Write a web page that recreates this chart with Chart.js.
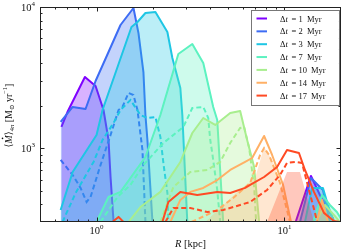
<!DOCTYPE html>
<html>
<head>
<meta charset="utf-8">
<script src="https://cdn.jsdelivr.net/npm/chart.js@4.4.0/dist/chart.umd.min.js"></script>
<style>
  html, body { margin: 0; padding: 0; background: #fff; }
</style>
</head>
<body>
<canvas id="chart" width="342" height="250"></canvas>
<script>
// time windows (Myr) and their colours
const dt = [1, 2, 3, 7, 10, 14, 17];
const colors = ['#7f00ff', '#3d6cf4', '#1ec6e4', '#5cf2c0', '#a8ee8e', '#ffb066', '#ff4a24'];

// solid curves: R [kpc] and <Mdot> [Msun/yr]
const r1 = [0.65, 0.70, 0.867, 0.988, 1.089, 1.158, 1.187, 1.231, 1.31, 10.7, 11.52, 13.84, 15.45, 18.11, 19.25];
const m1 = [1413, 1804, 3194, 2757, 1864, 1143, 625, 305, 200, 200, 305, 636, 466, 320, 250];
const r2 = [0.644, 0.746, 0.874, 0.988, 1.158, 1.341, 1.572, 1.671, 1.776, 1.82, 1.865, 1.983, 2.08, 11.8, 12.1, 13.84, 16.03, 17.46, 18.3];
const m2 = [1533, 1958, 1895, 2991, 4801, 7457, 9838, 6545, 3464, 1719, 1143, 305, 200, 200, 300, 615, 506, 300, 250];
const r3 = [0.644, 0.746, 1.0, 1.076, 1.293, 1.534, 1.651, 1.82, 2.057, 2.382, 2.532, 2.792, 2.861, 3.041, 3.155, 12.6, 12.86, 14.02, 16.03, 17.04, 18.33, 18.9];
const m3 = [365, 678, 1240, 1864, 3760, 7218, 7831, 9067, 9218, 6652, 4353, 2669, 1719, 300, 250, 250, 300, 523, 523, 396, 300, 250];
const r4 = [1.0, 1.158, 1.341, 1.82, 2.186, 2.724, 3.233, 3.698, 4.178, 4.389, 4.721, 4.9, 13.7, 14.19, 15.84, 17.46, 19.02, 20.5];
const m4 = [300, 451, 490, 866, 1719, 4647, 5470, 4012, 1958, 1584, 300, 250, 250, 300, 466, 396, 353, 300];
const r5 = [1.479, 1.712, 2.186, 2.792, 3.233, 3.698, 4.281, 5.144, 5.812, 6.331, 6.898, 7.332, 7.6, 14.0, 14.72, 16.42, 18.33, 19.73];
const m5 = [300, 383, 490, 799, 1281, 1636, 1460, 1775, 1834, 1143, 736, 300, 250, 250, 300, 396, 337, 300];
const r6 = [2.35, 2.471, 2.792, 3.155, 3.698, 4.389, 5.144, 6.178, 6.73, 7.793, 8.597, 9.831, 10.84, 11.2, 14.4, 14.89, 15.84, 17.04, 17.5];
const m6 = [250, 300, 430, 490, 523, 595, 701, 799, 852, 1220, 895, 549, 300, 250, 250, 300, 430, 300, 250];
const r7 = [1.16, 1.231, 1.309, 1.391, 1.46, 2.13, 2.24, 2.411, 2.792, 3.436, 4.389, 5.144, 6.178, 6.568, 7.793, 9.136, 10.32, 11.95, 12.86, 14.36, 16.23, 18.33, 19.73];
const m7 = [250, 305, 326, 300, 250, 250, 300, 416, 490, 466, 490, 482, 523, 549, 625, 736, 971, 925, 701, 490, 348, 305, 300];

// dashed curves
const r2d = [0.644, 0.746, 0.822, 0.885, 0.929, 1.05, 1.187, 1.309, 1.374, 1.479, 1.572, 1.651, 1.755, 1.82];
const m2d = [825, 646, 523, 416, 451, 760, 1240, 1864, 1958, 2460, 2381, 1864, 971, 300];
const r3d = [0.66, 0.685, 0.774, 0.964, 1.076, 1.231, 1.341, 1.515, 1.712, 1.865, 2.057, 2.186, 2.268, 2.382, 2.411];
const m3d = [300, 337, 482, 799, 1143, 1508, 1864, 2195, 1719, 1636, 1663, 1200, 786, 482, 300];
const r4d = [1.05, 1.293, 1.515, 1.776, 2.268, 2.896, 3.233, 3.698, 3.931, 4.028, 4.128, 4.389, 4.551];
const m4d = [300, 451, 549, 760, 1089, 1413, 1926, 1958, 1636, 1143, 925, 506, 300];
const r5d = [2.186, 2.563, 3.155, 3.883, 4.551, 5.144, 5.812, 6.1, 6.49, 6.898, 7.07];
const m5d = [300, 531, 678, 701, 799, 1089, 1390, 1413, 1003, 531, 300];
const r6d = [3.2, 4.389, 5.336, 6.568, 7.42, 7.793, 8.28, 9.476, 10.32, 10.71];
const m6d = [300, 365, 444, 567, 895, 1003, 895, 567, 365, 300];
const r7d = [2.324, 2.563, 3.155, 3.883, 4.721, 5.812, 6.568, 8.08, 9.476, 10.32, 11.38, 12.4, 13.51, 14.54, 15.0];
const m7d = [300, 377, 377, 353, 365, 396, 416, 506, 646, 786, 799, 786, 506, 348, 290];

// shaded bands for the two latest windows sit below their solid curves
const r6f = [3.79, 5.602, 6.983, 7.793, 8.597, 9.831, 10.84, 11.2, 14.4, 14.89, 15.84, 17.04, 17.5];
const m6f = [300, 490, 615, 1020, 825, 506, 300, 250, 250, 300, 430, 300, 250];
const r7f = [7.6, 8.08, 10.32, 12.1, 14.36, 14.8, 16.23, 18.33, 19.73];
const m7f = [250, 300, 678, 678, 300, 250, 300, 305, 300];

const xTicks = [1, 10];
const yTicks = [1000, 10000];

const solidR = [r1, r2, r3, r4, r5, r6, r7];
const solidM = [m1, m2, m3, m4, m5, m6, m7];
const dashedR = [null, r2d, r3d, r4d, r5d, r6d, r7d];
const dashedM = [null, m2d, m3d, m4d, m5d, m6d, m7d];
const fillR = [null, null, null, null, null, r6f, r7f];
const fillM = [null, null, null, null, null, m6f, m7f];

const SERIF = '"Liberation Serif", "DejaVu Serif", "DejaVu Sans", serif';

function points(rs, ms) {
    return rs.map((r, i) => ({ x: r, y: ms[i] }));
}

function hexA(hex, a) {
    const n = parseInt(hex.slice(1), 16);
    return 'rgba(' + (n >> 16) + ',' + ((n >> 8) & 255) + ',' + (n & 255) + ',' + a + ')';
}

const datasets = [];
dt.forEach((d, i) => {
    const ownFill = !!fillR[i];
    if (ownFill) {
        datasets.push({
            label: 'dt = ' + d + ' Myr (band)',
            data: points(fillR[i], fillM[i]),
            borderWidth: 0,
            borderColor: 'rgba(0,0,0,0)',
            backgroundColor: hexA(colors[i], 0.3),
            fill: 'start',
            pointRadius: 0,
            tension: 0,
            clip: 0,
            order: 200 - 3 * i
        });
    }
    datasets.push({
        label: 'dt = ' + d + ' Myr',
        data: points(solidR[i], solidM[i]),
        borderColor: colors[i],
        backgroundColor: hexA(colors[i], 0.3),
        borderWidth: 2,
        borderJoinStyle: 'round',
        fill: ownFill ? false : 'start',
        pointRadius: 0,
        tension: 0,
        clip: 0,
        order: 199 - 3 * i
    });
    if (dashedR[i]) {
        datasets.push({
            label: 'dt = ' + d + ' Myr (dashed)',
            data: points(dashedR[i], dashedM[i]),
            borderColor: colors[i],
            borderWidth: 2,
            borderDash: [5, 3],
            fill: false,
            pointRadius: 0,
            tension: 0,
            clip: 0,
            order: 198 - 3 * i
        });
    }
});

// draws a row of text pieces (for super/subscripts)
function drawRuns(ctx, runs, x, y, align) {
    let w = 0;
    runs.forEach(r => { ctx.font = r.font; r.w = ctx.measureText(r.t).width; w += r.w; });
    let cx = align === 'center' ? x - w / 2 : (align === 'right' ? x - w : x);
    runs.forEach(r => {
        ctx.font = r.font;
        ctx.fillText(r.t, cx, y + (r.dy || 0));
        r.x = cx;
        cx += r.w;
    });
    return runs;
}

const decor = {
    id: 'decor',
    afterDraw(chart) {
        const { ctx, chartArea: a, scales: { x, y } } = chart;
        ctx.save();

        // frame
        ctx.strokeStyle = '#222';
        ctx.lineWidth = 1;
        ctx.strokeRect(a.left + 0.5, a.top + 0.5, a.right - a.left - 1, a.bottom - a.top - 1);

        // inward ticks on all sides
        const xMinor = [0.6, 0.7, 0.8, 0.9, 2, 3, 4, 5, 6, 7, 8, 9];
        const yMinor = [400, 500, 600, 700, 800, 900, 2000, 3000, 4000, 5000, 6000, 7000, 8000, 9000];
        ctx.beginPath();
        xTicks.concat(xMinor).forEach(v => {
            const len = xTicks.includes(v) ? 4.5 : 2.5;
            const px = Math.round(x.getPixelForValue(v)) + 0.5;
            ctx.moveTo(px, a.bottom); ctx.lineTo(px, a.bottom - len);
            ctx.moveTo(px, a.top); ctx.lineTo(px, a.top + len);
        });
        yTicks.concat(yMinor).forEach(v => {
            const len = yTicks.includes(v) ? 4.5 : 2.5;
            const py = Math.round(y.getPixelForValue(v)) + 0.5;
            ctx.moveTo(a.left, py); ctx.lineTo(a.left + len, py);
            ctx.moveTo(a.right, py); ctx.lineTo(a.right - len, py);
        });
        ctx.stroke();

        // tick labels
        ctx.fillStyle = '#111';
        ctx.textBaseline = 'alphabetic';
        xTicks.forEach(v => {
            const e = Math.round(Math.log10(v));
            drawRuns(ctx, [
                { t: '10', font: '10.5px ' + SERIF },
                { t: String(e), font: '7px ' + SERIF, dy: -5 }
            ], x.getPixelForValue(v), 233.5, 'center');
        });
        yTicks.forEach(v => {
            const e = Math.round(Math.log10(v));
            drawRuns(ctx, [
                { t: '10', font: '10.5px ' + SERIF },
                { t: String(e), font: '7px ' + SERIF, dy: -5 }
            ], 35, y.getPixelForValue(v) + 4, 'right');
        });

        // x title
        drawRuns(ctx, [
            { t: 'R', font: 'italic 10.5px ' + SERIF },
            { t: ' [kpc]', font: '10.5px ' + SERIF }
        ], (a.left + a.right) / 2, 247, 'center');

        // y title
        ctx.save();
        ctx.translate(11.5, (a.top + a.bottom) / 2 + 1);
        ctx.rotate(-Math.PI / 2);
        const runs = drawRuns(ctx, [
            { t: '\u27E8', font: '10px ' + SERIF },
            { t: 'M', font: 'italic 10px ' + SERIF },
            { t: '\u27E9', font: '10px ' + SERIF },
            { t: '4\u03C0', font: '6.5px ' + SERIF, dy: 2 },
            { t: ' [M', font: '10px ' + SERIF },
            { t: '\u2299', font: '6.5px ' + SERIF, dy: 2 },
            { t: ' yr', font: '10px ' + SERIF },
            { t: '\u22121', font: '6.5px ' + SERIF, dy: -4.5 },
            { t: ']', font: '10px ' + SERIF }
        ], 0, 0, 'center');
        ctx.beginPath();
        ctx.arc(runs[1].x + runs[1].w * 0.62, -9, 0.8, 0, Math.PI * 2);
        ctx.fill();
        ctx.restore();

        // legend box
        const lx = 251.5, ly = 10.5, lw = 88, lh = 95;
        ctx.fillStyle = 'rgba(255,255,255,0.9)';
        ctx.fillRect(lx, ly, lw, lh);
        ctx.strokeStyle = '#777';
        ctx.lineWidth = 1;
        ctx.strokeRect(lx, ly, lw, lh);
        dt.forEach((d, i) => {
            const ry = 18.5 + i * 12.85;
            ctx.strokeStyle = colors[i];
            ctx.lineWidth = 2;
            ctx.beginPath();
            ctx.moveTo(256.5, ry); ctx.lineTo(267, ry);
            ctx.stroke();
            ctx.fillStyle = '#111';
            drawRuns(ctx, [
                { t: '\u0394', font: '8.5px ' + SERIF },
                { t: 't', font: 'italic 8.5px ' + SERIF }
            ], 280, ry + 3, 'left');
            ctx.font = '8.5px ' + SERIF;
            ctx.fillText('=', 291.5, ry + 3);
            ctx.fillText(String(d), 298.5, ry + 3);
            ctx.fillText('Myr', d >= 10 ? 311 : 307, ry + 3);
        });

        ctx.restore();
    }
};

document.addEventListener("DOMContentLoaded", function () {
    if (typeof Chart === 'undefined') {
        console.error("Chart.js not loaded properly!");
        return;
    }
    const ctx = document.getElementById('chart').getContext('2d');
    new Chart(ctx, {
        type: 'line',
        data: { datasets: datasets },
        options: {
            responsive: false,
            animation: false,
            devicePixelRatio: 1,
            layout: { padding: { left: 40, top: 7, right: 1, bottom: 28 } },
            plugins: { legend: { display: false }, tooltip: { enabled: false } },
            scales: {
                x: { type: 'logarithmic', min: 0.5, max: 20, display: false },
                y: { type: 'logarithmic', min: 300, max: 10000, display: false }
            }
        },
        plugins: [decor]
    });
});
</script>
</body>
</html>
